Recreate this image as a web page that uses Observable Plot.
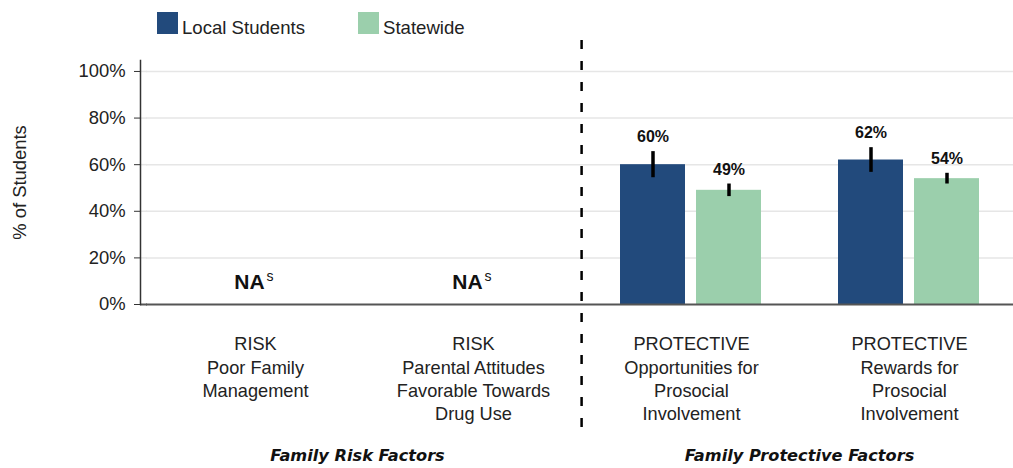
<!DOCTYPE html>
<html>
<head>
<meta charset="utf-8">
<script src="https://cdn.jsdelivr.net/npm/d3@7"></script>
<script src="https://cdn.jsdelivr.net/npm/@observablehq/plot@0.6"></script>
<style>
  html, body { margin: 0; padding: 0; background: white; }
  #wrap { position: relative; width: 1013px; height: 468px; font-family: "Liberation Sans", Arial, sans-serif; }
  #legend { position: absolute; left: 0; top: 0; width: 1013px; height: 40px; }
  .sw { position: absolute; top: 12px; width: 21px; height: 22px; }
  .lt { position: absolute; top: 18px; font-size: 18.6px; color: #222; line-height: 20px; }
</style>
</head>
<body>
<div id="wrap"><div id="chart"></div><div id="legend"></div></div>
<script>
const categories = ["Poor Family Management", "Parental Attitudes Favorable Towards Drug Use", "Opportunities for Prosocial Involvement", "Rewards for Prosocial Involvement"];
const categoryLabels = ["RISK\nPoor Family\nManagement", "RISK\nParental Attitudes\nFavorable Towards\nDrug Use", "PROTECTIVE\nOpportunities for\nProsocial\nInvolvement", "PROTECTIVE\nRewards for\nProsocial\nInvolvement"];
const series = ["Local Students", "Statewide"];
const colors = ["#224a7c", "#9bcfac"];
const localValues = [null, null, 60, 62];
const stateValues = [null, null, 49, 54];
const localError = [null, null, 5.6, 5.3];
const stateError = [null, null, 2.7, 2.3];
const groups = ["Family Risk Factors", "Family Protective Factors"];
const yTicks = [0, 20, 40, 60, 80, 100];
const yLabel = "% of Students";

const table = [];
categories.forEach((c, i) => {
  [[localValues, localError], [stateValues, stateError]].forEach(([vals, errs], s) => {
    if (vals[i] != null) table.push({category: c, series: series[s], value: vals[i], lo: vals[i] - errs[i], hi: vals[i] + errs[i], label: vals[i] + "%"});
  });
});
const naCats = categories.filter((c, i) => localValues[i] == null);

const chart = Plot.plot({
  width: 1013, height: 468,
  marginLeft: 145, marginRight: -5, marginTop: 60, marginBottom: 164,
  style: {fontFamily: "'Liberation Sans', Arial, sans-serif", fontSize: "18px", color: "#222", background: "white", overflow: "visible"},
  fx: {domain: categories, padding: 0, axis: null, label: null},
  x: {domain: series, paddingInner: 0.143, paddingOuter: 0.489, axis: null, label: null},
  y: {domain: [0, 104.7], axis: null, label: null},
  color: {domain: series, range: colors},
  marks: [
    Plot.ruleY(yTicks.filter(d => d > 0), {y: d => d, stroke: "#e6e6e6", strokeWidth: 1.5}),
    Plot.ruleY(yTicks.filter(d => d > 0).map(y => ({y, c: categories[0]})), {fx: "c", y: "y", stroke: "#e6e6e6", strokeWidth: 1.5, insetLeft: -6, insetRight: 217}),
    Plot.barY(table, {fx: "category", x: "series", y: "value", fill: "series"}),
    Plot.ruleY([0], {y: d => d, stroke: "#555", strokeWidth: 2}),
    Plot.ruleY([categories[0]], {fx: d => d, y: () => 0, stroke: "#555", strokeWidth: 2, insetLeft: -6, insetRight: 217}),
    Plot.frame({anchor: "left", facetAnchor: "left", dx: -6, stroke: "#333", strokeWidth: 1.5}),
    Plot.axisY({ticks: yTicks, tickFormat: d => d + "%", tickSize: 6, tickPadding: 9, dx: -6, fontSize: 18.4, label: null, stroke: "#333"}),
    Plot.ruleX(table, {fx: "category", x: "series", y1: "lo", y2: "hi", stroke: "black", strokeWidth: 3.5}),
    Plot.text(table, {fx: "category", x: "series", y: "hi", text: "label", lineAnchor: "bottom", dy: -9.5, fontSize: 16, fontWeight: "bold", fill: "#111"}),
    Plot.text(naCats, {fx: d => d, y: () => 0, text: () => "NA", lineAnchor: "bottom", dx: -6, dy: -16, fontSize: 21, fontWeight: "bold", fill: "#111"}),
    Plot.text(naCats, {fx: d => d, y: () => 0, text: () => "s", textAnchor: "start", lineAnchor: "bottom", dx: 11, dy: -24, fontSize: 14, fill: "#111"}),
    Plot.ruleX([categories[2]], {fx: d => d, x: () => series[0], dx: -71.4, stroke: "black", strokeWidth: 2.5, strokeDasharray: "9,12", insetTop: -20, insetBottom: -134}),
    Plot.text(categories, {fx: d => d, text: (d, i) => categoryLabels[i], frameAnchor: "bottom", lineAnchor: "top", dy: 29.4, lineHeight: 1.28, fontSize: 18.2, fill: "#222"}),
    Plot.text([groups[0]], {fx: () => categories[0], frameAnchor: "bottom", lineAnchor: "middle", dx: 102, dy: 151.5, fontSize: 16.2, fontWeight: "bold", fontStyle: "oblique", fontFamily: "'DejaVu Sans', sans-serif", fill: "#111"}),
    Plot.text([groups[1]], {fx: () => categories[2], frameAnchor: "bottom", lineAnchor: "middle", dx: 108, dy: 151.5, fontSize: 16.2, fontWeight: "bold", fontStyle: "oblique", fontFamily: "'DejaVu Sans', sans-serif", fill: "#111"}),
    Plot.text([yLabel], {fx: () => categories[0], frameAnchor: "left", textAnchor: "middle", rotate: -90, dx: -126.5, fontSize: 18.4, fill: "#222"})
  ]
});
document.getElementById("chart").appendChild(chart);

const legend = document.getElementById("legend");
const swX = [157, 358];
series.forEach((s, i) => {
  const sw = document.createElement("div");
  sw.className = "sw"; sw.style.left = swX[i] + "px"; sw.style.background = colors[i];
  const t = document.createElement("div");
  t.className = "lt"; t.style.left = (swX[i] + 25) + "px"; t.textContent = s;
  legend.appendChild(sw); legend.appendChild(t);
});
</script>
</body>
</html>
